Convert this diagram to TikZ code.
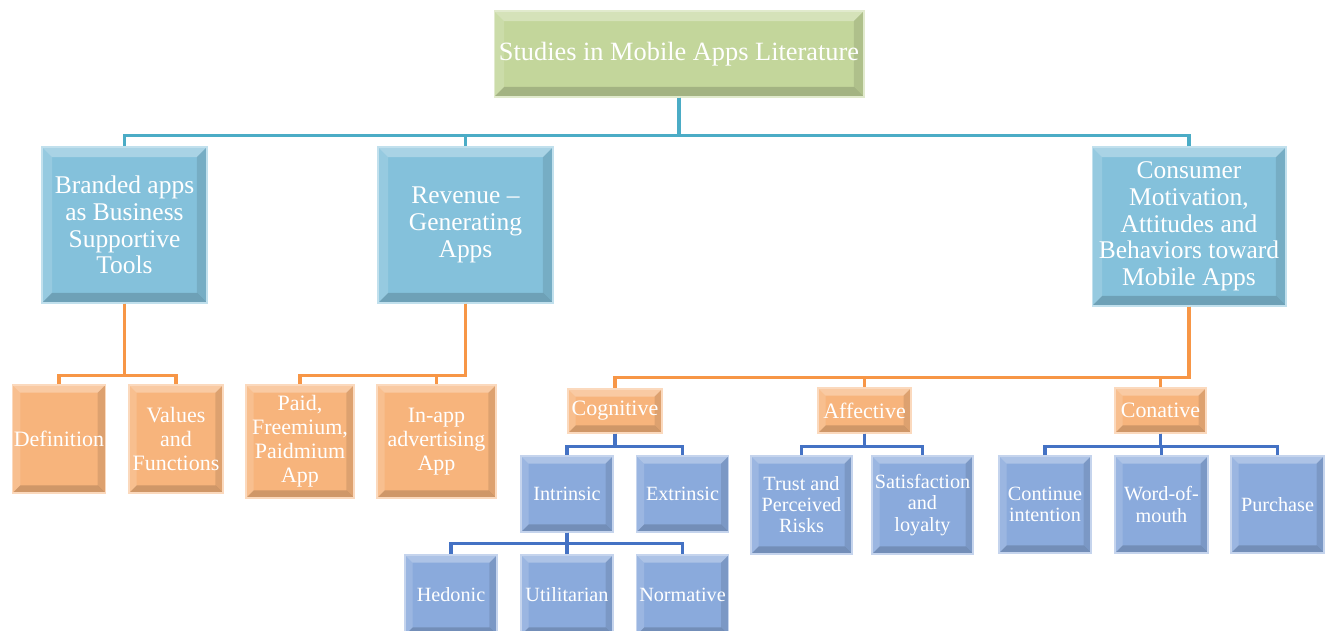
\documentclass[tikz,border=0pt]{standalone}
\usepackage{fontspec}
\setmainfont{LiberationSerif}[Extension=.ttf, UprightFont=*-Regular, BoldFont=*-Bold]
\usepackage{tikz}
\usetikzlibrary{positioning}
\definecolor{rootgreen}{HTML}{C3D69B}
\definecolor{areablue}{HTML}{84C1DB}
\definecolor{facetorange}{HTML}{F7B47C}
\definecolor{itemblue}{HTML}{8AAADC}
\definecolor{tealline}{HTML}{4BACC6}
\definecolor{orangeline}{HTML}{F79646}
\definecolor{blueline}{HTML}{4472C4}
\tikzset{
  bevel/.style={
    path picture={
      \fill[white,opacity=0.3] (path picture bounding box.north west)
        -- (path picture bounding box.north east)
        -- ([shift={(-#1,-#1)}]path picture bounding box.north east)
        -- ([shift={(#1,-#1)}]path picture bounding box.north west) -- cycle;
      \fill[white,opacity=0.15] (path picture bounding box.north west)
        -- (path picture bounding box.south west)
        -- ([shift={(#1,#1)}]path picture bounding box.south west)
        -- ([shift={(#1,-#1)}]path picture bounding box.north west) -- cycle;
      \fill[black,opacity=0.1] (path picture bounding box.north east)
        -- (path picture bounding box.south east)
        -- ([shift={(-#1,#1)}]path picture bounding box.south east)
        -- ([shift={(-#1,-#1)}]path picture bounding box.north east) -- cycle;
      \fill[black,opacity=0.16] (path picture bounding box.south west)
        -- (path picture bounding box.south east)
        -- ([shift={(-#1,#1)}]path picture bounding box.south east)
        -- ([shift={(#1,#1)}]path picture bounding box.south west) -- cycle;
    }
  },
  box/.style={
    shape=rectangle,
    inner sep=0pt,
    align=center,
    text=white,
    fill=#1,
    draw=#1!50!white,
    line width=0.6pt
  },
  topic/.style={
    box=rootgreen,
    bevel=0.2cm,
    minimum width=7.4cm,
    minimum height=1.72cm,
    font=\fontsize{15}{17}\selectfont
  },
  area/.style={
    box=areablue,
    bevel=0.2cm,
    minimum height=3.12cm,
    font=\fontsize{14.5}{15.2}\selectfont
  },
  facet/.style={
    box=facetorange,
    bevel=0.15cm,
    font=\fontsize{12.5}{13.6}\selectfont
  },
  item/.style={
    box=itemblue,
    bevel=0.15cm,
    minimum width=1.84cm,
    font=\fontsize{11.5}{12}\selectfont
  },
  tealbus/.style={draw=tealline, line width=1.8pt},
  orangebus/.style={draw=orangeline, line width=1.8pt},
  bluebus/.style={draw=blueline, line width=1.8pt}
}

\begin{document}
\begin{tikzpicture}[x=0.02cm,y=-0.02cm]
  \useasboundingbox (0,0) rectangle (1325,631);
  \clip (0,0) rectangle (1325,631);

  % root and main areas
  \node [topic] (root) at (679,54) {Studies in Mobile Apps Literature};
  \node [area, minimum width=3.3cm] (brand) at (124.5,225)
    {Branded apps\\as Business\\Supportive\\Tools};
  \node [area, minimum width=3.5cm] (revenue) at (465.5,225)
    {Revenue –\\Generating\\Apps};
  \node [area, minimum width=3.88cm, minimum height=3.18cm] (consumer) at (1189,226.5)
    {Consumer\\Motivation,\\Attitudes and\\Behaviors toward\\Mobile Apps};

  % orange level
  \node [facet, minimum width=1.85cm, minimum height=2.16cm] (definition) at (59,439) {Definition};
  \node [facet, minimum width=1.88cm, minimum height=2.16cm] (values) at (176,439) {Values\\and\\Functions};
  \node [facet, minimum width=2.16cm, minimum height=2.26cm] (paid) at (300,441.5)
    {Paid,\\Freemium,\\Paidmium\\App};
  \node [facet, minimum width=2.38cm, minimum height=2.26cm] (inapp) at (436.5,441.5)
    {In-app\\advertising\\App};
  \node [facet, minimum width=1.88cm, minimum height=0.88cm] (cognitive) at (615,411) {Cognitive};
  \node [facet, minimum width=1.86cm, minimum height=0.9cm] (affective) at (864.5,410.5) {Affective};
  \node [facet, minimum width=1.82cm, minimum height=0.9cm] (conative) at (1160.5,410.5) {Conative};

  % blue level
  \node [item, minimum height=1.52cm] (intrinsic) at (567,494) {Intrinsic};
  \node [item, minimum height=1.52cm] (extrinsic) at (682.5,494) {Extrinsic};
  \node [item, minimum height=1.6cm] (hedonic) at (451,595) {Hedonic};
  \node [item, minimum height=1.6cm] (utilitarian) at (567,595) {Utilitarian};
  \node [item, minimum height=1.6cm] (normative) at (682.5,595) {Normative};
  \node [item, minimum width=2.02cm, minimum height=1.96cm] (trust) at (801.5,505)
    {Trust and\\Perceived\\Risks};
  \node [item, minimum width=2.02cm, minimum height=1.96cm] (satisfaction) at (922.5,505)
    {Satisfaction\\and\\loyalty};
  \node [item, minimum height=1.94cm] (continue) at (1045,504.5) {Continue\\intention};
  \node [item, minimum width=1.86cm, minimum height=1.94cm] (wom) at (1161.5,504.5) {Word-of-\\mouth};
  \node [item, minimum width=1.86cm, minimum height=1.94cm] (purchase) at (1277.5,504.5) {Purchase};

  % connectors
  \foreach \c in {brand,revenue,consumer}
    \draw [tealbus] (root.south) -- ++(0,38) -| (\c.north);
  \foreach \c in {definition,values}
    \draw [orangebus] (brand.south) -- ++(0,72) -| (\c.north);
  \foreach \c in {paid,inapp}
    \draw [orangebus] (revenue.south) -- ++(0,72) -| (\c.north);
  \foreach \c in {cognitive,affective,conative}
    \draw [orangebus] (consumer.south) -- ++(0,71) -| (\c.north);
  \foreach \c in {intrinsic,extrinsic}
    \draw [bluebus] (cognitive.south) -- ++(0,13) -| (\c.north);
  \foreach \c in {hedonic,utilitarian,normative}
    \draw [bluebus] (intrinsic.south) -- ++(0,11) -| (\c.north);
  \foreach \c in {trust,satisfaction}
    \draw [bluebus] (affective.south) -- ++(0,13) -| (\c.north);
  \foreach \c in {continue,wom,purchase}
    \draw [bluebus] (conative.south) -- ++(0,13) -| (\c.north);
\end{tikzpicture}
\end{document}
